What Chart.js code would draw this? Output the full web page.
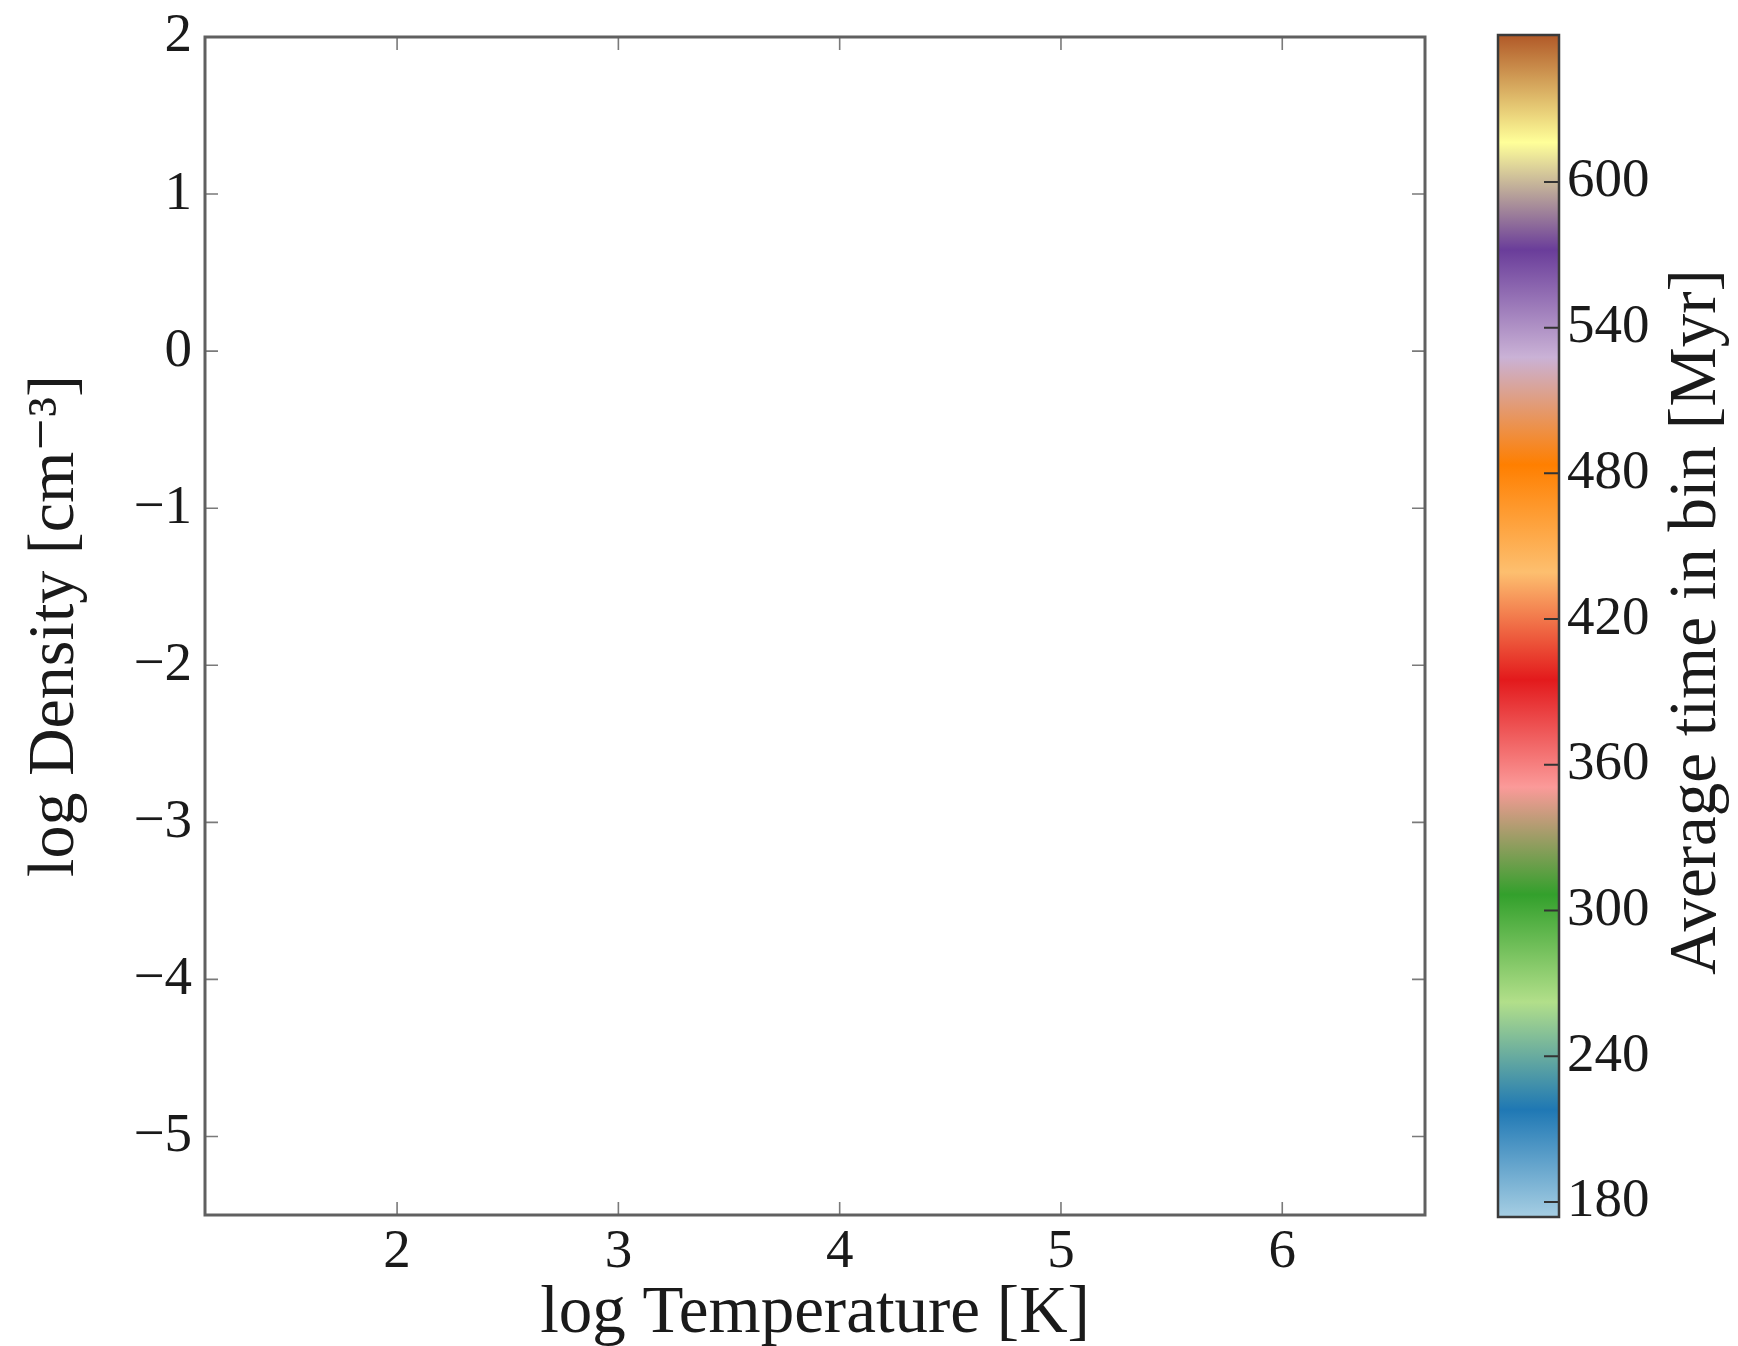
<!DOCTYPE html>
<html><head><meta charset="utf-8">
<script src="https://cdn.jsdelivr.net/npm/chart.js@4.4.1/dist/chart.umd.min.js"></script>
<style>
html,body{margin:0;padding:0;background:#fff;}
#wrap{position:relative;width:1738px;height:1346px;overflow:hidden;background:#fff;}
#main{position:absolute;left:0;top:0;}
#cbar{position:absolute;left:1460px;top:0;}
</style></head><body>
<div id="wrap"><canvas id="main" width="1460" height="1346"></canvas><canvas id="cbar" width="278" height="1346"></canvas></div>
<script>
// ---- data ----
const xRange = [1.132, 6.645];
const yRange = [-5.5, 2];
const xTicks = [2, 3, 4, 5, 6];
const yTicks = [-5, -4, -3, -2, -1, 0, 1, 2];
const points = []; // the panel shows no plotted points
const cbRange = [173.8, 660.5];
const cbTicks = [180, 240, 300, 360, 420, 480, 540, 600];
const cbColors = ['#a6cee3','#1f78b4','#b2df8a','#33a02c','#fb9a99','#e31a1c','#fdbf6f','#ff7f00','#cab2d6','#6a3d9a','#ffff99','#b15928'];
const xTitle = 'log Temperature [K]';
const yTitle = 'log Density [cm⁻³]';
const cbTitle = 'Average time in bin [Myr]';

// ---- styling ----
const FAMILY = "'Liberation Serif', 'DejaVu Serif', serif";
const TEXT = '#1a1a1a';
const fmt = v => String(v).replace('-', '\u2212');

const frameTicks = {
  id: 'frameTicks',
  afterDraw(chart, args, o) {
    const {ctx, chartArea: a, scales} = chart;
    ctx.save();
    ctx.strokeStyle = o.tickColor; ctx.lineWidth = o.tickWidth;
    ctx.beginPath();
    scales.x.ticks.forEach(t => {
      const p = scales.x.getPixelForValue(t.value);
      ctx.moveTo(p, a.bottom); ctx.lineTo(p, a.bottom - o.len);
      ctx.moveTo(p, a.top); ctx.lineTo(p, a.top + o.len);
    });
    scales.y.ticks.forEach(t => {
      const p = scales.y.getPixelForValue(t.value);
      ctx.moveTo(a.left, p); ctx.lineTo(a.left + o.len, p);
      ctx.moveTo(a.right, p); ctx.lineTo(a.right - o.len, p);
    });
    ctx.stroke();
    ctx.strokeStyle = o.frameColor; ctx.lineWidth = o.frameWidth;
    ctx.strokeRect(a.left, a.top, a.right - a.left, a.bottom - a.top);
    ctx.restore();
  }
};

new Chart(document.getElementById('main'), {
  type: 'scatter',
  data: { datasets: [{ data: points, pointRadius: 0 }] },
  options: {
    responsive: false, animation: false, events: [],
    layout: { padding: { left: 0, top: 37, right: 35, bottom: 0 } },
    plugins: {
      legend: { display: false }, tooltip: { enabled: false },
      frameTicks: { len: 13, tickColor: '#7a7a7a', tickWidth: 1.6, frameColor: '#606060', frameWidth: 3 }
    },
    scales: {
      x: {
        type: 'linear', position: 'bottom', min: xRange[0], max: xRange[1],
        afterBuildTicks: s => { s.ticks = xTicks.map(v => ({ value: v })); },
        afterFit: s => { s.height = 131; },
        grid: { display: false, drawTicks: false }, border: { display: false },
        ticks: { font: { family: FAMILY, size: 55, lineHeight: 1.2 }, color: TEXT, padding: 5, maxRotation: 0, autoSkip: false, callback: fmt },
        title: { display: true, text: xTitle, color: TEXT, font: { family: FAMILY, size: 67, lineHeight: 0.94 }, padding: { top: 0, bottom: 0 } }
      },
      y: {
        type: 'linear', position: 'left', min: yRange[0], max: yRange[1],
        afterBuildTicks: s => { s.ticks = yTicks.map(v => ({ value: v })); },
        afterFit: s => { s.width = 205; },
        grid: { display: false, drawTicks: false }, border: { display: false },
        ticks: { font: { family: FAMILY, size: 55, lineHeight: 0.8 }, color: TEXT, padding: 13, autoSkip: false, callback: fmt },
        title: { display: true, text: yTitle, color: TEXT, font: { family: FAMILY, size: 66, lineHeight: 1 }, padding: { top: 23, bottom: 0 } }
      }
    }
  },
  plugins: [frameTicks]
});

// ---- colour bar ----
const cbDecor = {
  id: 'cbDecor',
  afterDraw(chart, args, o) {
    const {ctx, chartArea: a, scales} = chart;
    ctx.save();
    ctx.strokeStyle = o.tickColor; ctx.lineWidth = o.tickWidth;
    ctx.beginPath();
    scales.y.ticks.forEach(t => {
      const p = scales.y.getPixelForValue(t.value);
      ctx.moveTo(a.right, p); ctx.lineTo(a.right - o.len, p);
    });
    ctx.stroke();
    ctx.strokeStyle = o.frameColor; ctx.lineWidth = o.frameWidth;
    ctx.strokeRect(a.left, a.top, a.right - a.left, a.bottom - a.top);
    ctx.fillStyle = TEXT;
    ctx.font = o.titleSize + 'px ' + FAMILY;
    ctx.textAlign = 'center'; ctx.textBaseline = 'middle';
    ctx.translate(o.titleX, (a.top + a.bottom) / 2 - 4);
    ctx.rotate(-Math.PI / 2);
    ctx.fillText(cbTitle, 0, 0);
    ctx.restore();
  }
};

function cbGradient(context) {
  const chart = context.chart;
  const a = chart.chartArea;
  if (!a) return cbColors[0];
  const ys = chart.scales.y;
  const y0 = ys.getPixelForValue(cbRange[0]);
  const y1 = ys.getPixelForValue(cbRange[1]);
  const g = chart.ctx.createLinearGradient(0, y0, 0, y1);
  cbColors.forEach((c, i) => g.addColorStop(i / (cbColors.length - 1), c));
  return g;
}

new Chart(document.getElementById('cbar'), {
  type: 'bar',
  data: { labels: ['cb'], datasets: [{ data: [cbRange], backgroundColor: cbGradient, borderWidth: 0, barPercentage: 1, categoryPercentage: 1 }] },
  options: {
    responsive: false, animation: false, events: [],
    layout: { padding: { left: 38, top: 35, right: 0, bottom: 129 } },
    plugins: {
      legend: { display: false }, tooltip: { enabled: false },
      cbDecor: { len: 15, tickColor: '#333', tickWidth: 2, frameColor: '#3a3a3a', frameWidth: 2.5, titleX: 237, titleSize: 67 }
    },
    scales: {
      x: { display: false },
      y: {
        type: 'linear', position: 'right', min: cbRange[0], max: cbRange[1],
        afterBuildTicks: s => { s.ticks = cbTicks.map(v => ({ value: v })); },
        afterFit: s => { s.width = 179; },
        grid: { display: false, drawTicks: false }, border: { display: false },
        ticks: { font: { family: FAMILY, size: 55, lineHeight: 0.8 }, color: TEXT, padding: 8, autoSkip: false, callback: fmt }
      }
    }
  },
  plugins: [cbDecor]
});
</script>
</body></html>
